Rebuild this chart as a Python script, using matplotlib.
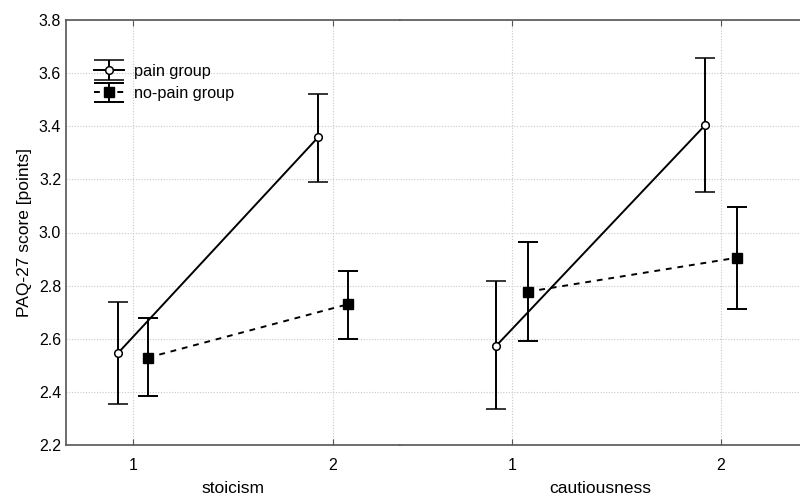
import matplotlib.pyplot as plt
from matplotlib.legend_handler import HandlerErrorbar

plt.rcParams['font.family'] = ['Liberation Sans', 'DejaVu Sans']

levels = [1, 2]
panels = ["stoicism", "cautiousness"]

# means and CI bounds, per panel, per level
pain_mean = [[2.546, 3.358], [2.574, 3.405]]
pain_low = [[2.353, 3.191], [2.335, 3.152]]
pain_high = [[2.739, 3.523], [2.817, 3.656]]

nopain_mean = [[2.529, 2.730], [2.777, 2.905]]
nopain_low = [[2.384, 2.600], [2.592, 2.712]]
nopain_high = [[2.678, 2.856], [2.964, 3.096]]

yticks = [2.2, 2.4, 2.6, 2.8, 3.0, 3.2, 3.4, 3.6, 3.8]

fig = plt.figure(figsize=(8, 5), dpi=100)
ax1 = fig.add_axes([0.0825, 0.11, 0.4175, 0.85])
ax2 = fig.add_axes([0.5, 0.11, 0.5, 0.85], sharey=ax1)
axes = [ax1, ax2]
xlims = [(0.665, 2.335), (0.464, 2.378)]
offset = 0.075
spine_col = '#555555'

for i, ax in enumerate(axes):
    xp = [x - offset for x in levels]
    xn = [x + offset for x in levels]
    pm = pain_mean[i]
    nm = nopain_mean[i]
    perr = [[m - lo for m, lo in zip(pm, pain_low[i])],
            [hi - m for m, hi in zip(pm, pain_high[i])]]
    nerr = [[m - lo for m, lo in zip(nm, nopain_low[i])],
            [hi - m for m, hi in zip(nm, nopain_high[i])]]
    ax.errorbar(xp, pm, yerr=perr, color='black', lw=1.4, ls='-',
                marker='o', ms=5.5, mfc='white', mec='black', mew=1.1,
                capsize=7.5, capthick=1.4, elinewidth=1.4, zorder=3,
                label="pain group")
    ax.errorbar(xn, nm, yerr=nerr, color='black', lw=1.4, ls=(0, (3, 3)),
                marker='s', ms=6.5, mfc='black', mec='black',
                capsize=7.5, capthick=1.4, elinewidth=1.4, zorder=3,
                label="no-pain group")
    ax.set_xlim(*xlims[i])
    ax.set_xticks(levels)
    ax.set_xticklabels([str(x) for x in levels])
    ax.set_xlabel(panels[i], fontsize=12.5, labelpad=6)
    ax.grid(True, color='#c8c8c8', ls=(0, (1, 1.5)), lw=0.8)
    ax.set_axisbelow(True)
    ax.tick_params(axis='x', direction='in', top=True, length=4,
                   color=spine_col, labelsize=11.5, pad=9)
    ax.tick_params(axis='y', direction='in', length=0, labelsize=11.5)
    ax.spines['right'].set_visible(False)
    for s in ['left', 'top', 'bottom']:
        ax.spines[s].set_color(spine_col)
        ax.spines[s].set_linewidth(1.2)

ax2.spines['left'].set_visible(False)
ax2.tick_params(axis='y', labelleft=False)
ax1.set_ylim(2.2, 3.8)
ax1.set_yticks(yticks)
ax1.set_yticklabels([f"{v:.1f}" for v in yticks])
ax1.set_ylabel("PAQ-27 score [points]", fontsize=12.5, labelpad=5)


def wide_caps(legend_handle, orig_handle):
    legend_handle.update_from(orig_handle)
    if hasattr(orig_handle, 'get_marker') and orig_handle.get_marker() == '_':
        legend_handle.set_markersize(22)


ax1.legend(loc='upper left', bbox_to_anchor=(0.085, 0.897), frameon=False,
           fontsize=11.7, handlelength=1.85, handletextpad=0.6,
           labelspacing=0.45, borderpad=0, borderaxespad=0,
           handler_map={type(ax1.containers[0]): HandlerErrorbar(yerr_size=0.6, update_func=wide_caps)})

fig.savefig("out.png", dpi=100)
